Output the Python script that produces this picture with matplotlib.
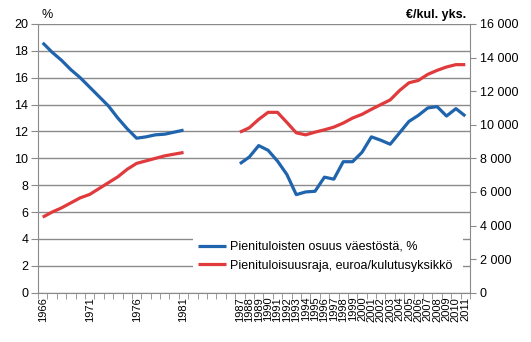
"""
Pienituloisuus 1966-2011: osuus vaestosta ja pienituloisuusraja
"""
import numpy as np
import matplotlib
matplotlib.use("Agg")
import matplotlib.pyplot as plt
from matplotlib.ticker import FixedLocator, FuncFormatter

plt.rcParams['font.family'] = ['Liberation Sans', 'DejaVu Sans']

# ----------------------------------------------------------------------------
# Data
# ----------------------------------------------------------------------------

years = list(range(1966, 2012))
label_years = [1966, 1971, 1976, 1981] + list(range(1987, 2012))

# Pienituloisten osuus vaestosta, % (1966-1981 and 1987-2011)
share_early = [18.6, 17.9, 17.3, 16.6, 16.0, 15.3, 14.6, 13.9, 13.0, 12.2,
               11.5, 11.6, 11.75, 11.8, 11.95, 12.1]
share_late = [9.6, 10.1, 10.95, 10.6, 9.8, 8.8, 7.3, 7.5, 7.55, 8.6,
              8.45, 9.75, 9.75, 10.45, 11.6, 11.35, 11.05, 11.9, 12.75, 13.2,
              13.75, 13.85, 13.15, 13.7, 13.15]

# Pienituloisuusraja, euroa/kulutusyksikko
limit_early = [4500, 4800, 5050, 5350, 5650, 5850, 6200, 6550, 6900, 7350,
               7700, 7850, 8000, 8150, 8250, 8350]
limit_late = [9560, 9820, 10320, 10740, 10740, 10140, 9520, 9400, 9560, 9700,
              9860, 10100, 10400, 10620, 10920, 11200, 11480, 12040, 12500, 12640,
              13000, 13240, 13440, 13580, 13580]

gap = [np.nan] * 5   # 1982-1986 no data
share = share_early + gap + share_late
limit = limit_early + gap + limit_late

blue = '#1f64ad'
red = '#e03a3c'
grid_col = '#8a8a8a'

# ----------------------------------------------------------------------------
# Figure
# ----------------------------------------------------------------------------

fig = plt.figure(figsize=(5.31, 3.42), dpi=100)
ax = fig.add_axes([38/531, 1 - 292.7/342, (470-38)/531, (292.7-24)/342])
ax2 = ax.twinx()

x = np.arange(len(years))
l1, = ax.plot(x, share, color=blue, lw=2.3, solid_capstyle='butt')
l2, = ax2.plot(x, limit, color=red, lw=2.3, solid_capstyle='butt')

ax.set_xlim(-0.5, len(years) - 0.5)
ax.set_ylim(0, 20)
ax2.set_ylim(0, 16000)

# left axis
ax.set_yticks(np.arange(0, 21, 2))
ax.yaxis.grid(True, color=grid_col, lw=1)
ax.set_axisbelow(True)
ax.tick_params(axis='y', length=5, color=grid_col, labelsize=9, pad=2)

# right axis
ax2.set_yticks(np.arange(0, 16001, 2000))
ax2.yaxis.set_major_formatter(FuncFormatter(lambda v, p: f"{int(v):,}".replace(',', ' ')))
ax2.tick_params(axis='y', length=4, color=grid_col, labelsize=9, pad=3)

# x axis: ticks between categories, labels at centres
ax.set_xticks([years.index(y) for y in label_years])
ax.set_xticklabels([str(y) for y in label_years], rotation=90, fontsize=8)
ax.xaxis.set_minor_locator(FixedLocator(np.arange(-0.5, len(years), 1)))
ax.tick_params(axis='x', which='major', length=0, pad=3)
ax.tick_params(axis='x', which='minor', length=4, color=grid_col)

for a in (ax, ax2):
    a.spines['top'].set_visible(False)
    for s in ('left', 'right', 'bottom'):
        a.spines[s].set_color(grid_col)
ax.spines['right'].set_visible(False)
ax2.spines['left'].set_visible(False)
ax2.spines['bottom'].set_visible(False)

fig.text(41/531, 1 - 15/342, '%', fontsize=9, va='center', ha='left')
fig.text(466/531, 1 - 15/342, '€/kul. yks.', fontsize=9, fontweight='bold',
         va='center', ha='right')

# legend box reaches the right axis and hides the lower gridlines
leg = ax2.legend([l1, l2],
                 ['Pienituloisten osuus väestöstä, %',
                  'Pienituloisuusraja, euroa/kulutusyksikkö'],
                 loc='upper left', mode='expand',
                 bbox_to_anchor=(187/531, 1 - 230/342, (469.5-187)/531, 0.001),
                 bbox_transform=fig.transFigure, frameon=True, fontsize=9,
                 handlelength=2.2, handletextpad=0.3, labelspacing=0.55,
                 borderpad=0.4, fancybox=False)
leg.get_frame().set_edgecolor('none')
leg.get_frame().set_facecolor('white')
leg.get_frame().set_alpha(1)

fig.savefig('out.png', dpi=100)
